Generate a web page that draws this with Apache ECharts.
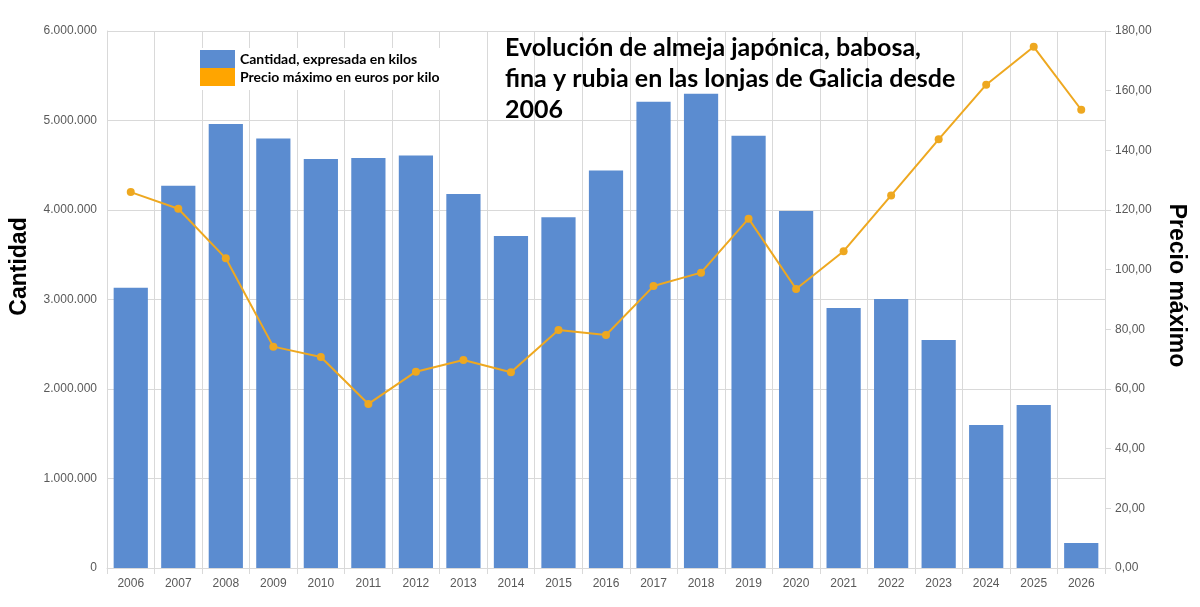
<!DOCTYPE html>
<html><head><meta charset="utf-8">
<script src="https://cdn.jsdelivr.net/npm/echarts@6/dist/echarts.min.js"></script>
<style>html,body{margin:0;padding:0;background:#fff}#c{width:1200px;height:607px}</style>
</head><body><div id="c"></div>
<script>
const years = ['2006','2007','2008','2009','2010','2011','2012','2013','2014','2015','2016','2017','2018','2019','2020','2021','2022','2023','2024','2025','2026'];
const cantidad = [3130000,4270000,4960000,4800000,4570000,4580000,4610000,4180000,3710000,3920000,4440000,5210000,5300000,4830000,3990000,2905000,3006000,2547000,1598000,1820000,280000];
const precio = [126.0,120.4,103.8,74.2,70.7,55.0,65.8,69.7,65.6,79.8,78.1,94.5,99.0,117.1,93.5,106.2,124.9,143.7,162.0,174.7,153.6];
const titleText = 'Evolución de almeja japónica, babosa,\nfina y rubia en las lonjas de Galicia desde\n2006';
const serieCantidad = 'Cantidad, expresada en kilos';
const seriePrecio = 'Precio máximo en euros por kilo';

const chart = echarts.init(document.getElementById('c'), null, {renderer:'canvas'});
const fmtThousands = v => String(Math.round(v)).replace(/\B(?=(\d{3})+(?!\d))/g, '.');
const fmtDec = v => v.toFixed(2).replace('.', ',');
const grey = '#d9d9d9';
const lab = {color:'#595959', fontFamily:'Liberation Sans, Arial', fontSize:12};
chart.setOption({
  animation:false,
  backgroundColor:'#fff',
  title:{text:titleText, left:500, top:27,
    textStyle:{fontFamily:'Lato', fontWeight:'bold', fontSize:25, color:'#000', lineHeight:31}},
  legend:{
    orient:'vertical', left:190, top:48, itemGap:0, itemWidth:35, itemHeight:18,
    backgroundColor:'#fff', padding:[2,8,4,10],
    textStyle:{fontFamily:'Lato', fontWeight:'bold', fontSize:14, color:'#000'},
    data:[
      {name:serieCantidad, icon:'rect', itemStyle:{color:'#5B8CD0'}},
      {name:seriePrecio, icon:'rect', itemStyle:{color:'#FFA500'}, lineStyle:{width:0, opacity:0}}
    ]
  },
  grid:{left:107, right:95, top:31, bottom:39, containLabel:false, outerBoundsMode:'none'},
  xAxis:{type:'category', data:years,
    axisLine:{show:true, lineStyle:{color:grey}},
    axisTick:{show:true, length:6, lineStyle:{color:grey}},
    axisLabel:{...lab, margin:10},
    splitLine:{show:true, lineStyle:{color:grey}}},
  yAxis:[
    {type:'value', min:0, max:6000000, interval:1000000,
     name:'Cantidad', nameLocation:'middle', nameGap:76, nameRotate:90,
     nameTextStyle:{fontFamily:'Liberation Sans, Arial', fontWeight:'bold', fontSize:23, color:'#000', padding:[0,0,0,66]},
     axisLine:{show:true, lineStyle:{color:grey}}, axisTick:{show:false},
     axisLabel:{...lab, margin:10, formatter:fmtThousands},
     splitLine:{show:true, lineStyle:{color:grey}}},
    {type:'value', min:0, max:180, interval:20,
     name:'Precio máximo', nameLocation:'middle', nameGap:60, nameRotate:-90,
     nameTextStyle:{fontFamily:'Liberation Sans, Arial', fontWeight:'bold', fontSize:23, color:'#000', padding:[0,28,0,0]},
     axisLine:{show:true, lineStyle:{color:grey}}, axisTick:{show:true, length:6, lineStyle:{color:grey}},
     axisLabel:{...lab, margin:10, formatter:fmtDec},
     splitLine:{show:false}}
  ],
  series:[
    {name:serieCantidad, type:'bar', data:cantidad, barWidth:'72%', itemStyle:{color:'#5B8CD0'}, z:2},
    {name:seriePrecio, type:'line', yAxisIndex:1, data:precio, symbol:'circle', symbolSize:8,
     lineStyle:{color:'#EEA820', width:2}, itemStyle:{color:'#EEA820'}, z:3}
  ]
});
</script></body></html>
